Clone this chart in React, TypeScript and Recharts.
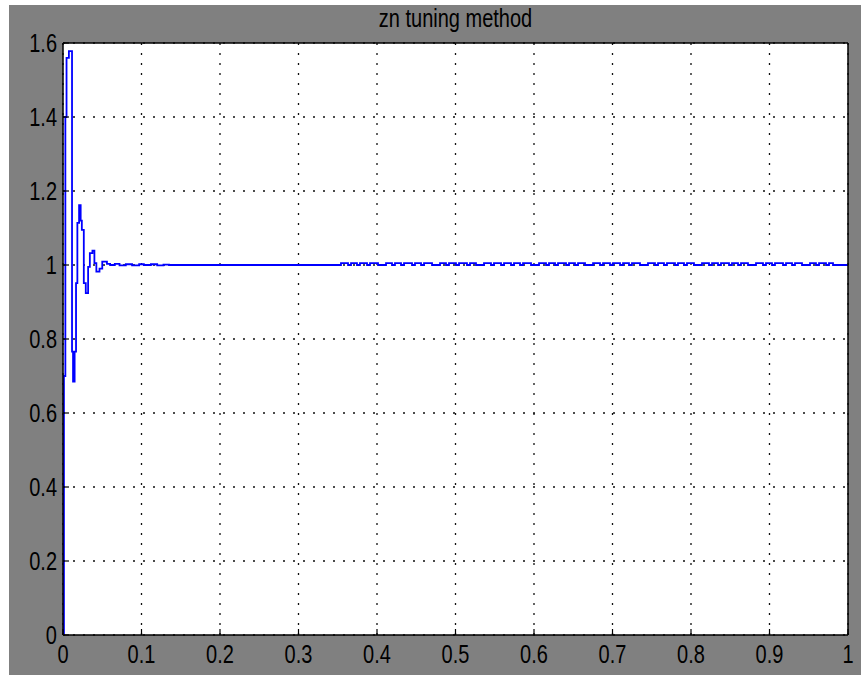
import React from 'react';
import { LineChart, Line, XAxis, YAxis, CartesianGrid } from 'recharts';

const titleText = 'zn tuning method';

const xTicks = [0, 0.1, 0.2, 0.3, 0.4, 0.5, 0.6, 0.7, 0.8, 0.9, 1];
const xTickLabels = ['0', '0.1', '0.2', '0.3', '0.4', '0.5', '0.6', '0.7', '0.8', '0.9', '1'];
const yTicks = [0, 0.2, 0.4, 0.6, 0.8, 1, 1.2, 1.4, 1.6];
const yTickLabels = ['0', '0.2', '0.4', '0.6', '0.8', '1', '1.2', '1.4', '1.6'];

// step response: [time, value], held until the next sample
const transientPoints: [number, number][] = [
  [0, 0],
  [0.0012, 0.7],
  [0.003, 1.4],
  [0.0045, 1.56],
  [0.0075, 1.578],
  [0.0115, 0.766],
  [0.0128, 0.685],
  [0.0148, 0.766],
  [0.0166, 0.951],
  [0.0183, 1.114],
  [0.0205, 1.162],
  [0.0225, 1.12],
  [0.024, 1.095],
  [0.0265, 0.951],
  [0.029, 0.924],
  [0.032, 0.995],
  [0.0342, 1.032],
  [0.0375, 1.039],
  [0.04, 1.005],
  [0.0425, 0.982],
  [0.0465, 0.99],
  [0.05, 1.009],
  [0.056, 1.003],
];

const settlingRipple: [number, number][] = [
  [0.06, 1.0],
  [0.066, 1.003],
  [0.072, 0.999],
  [0.08, 1.002],
  [0.088, 0.999],
  [0.097, 1.002],
  [0.103, 1.0],
  [0.112, 1.002],
  [0.12, 0.999],
  [0.128, 1.001],
  [0.135, 1.0],
];

const rippleHigh = 1.005;
const rippleBase = 1.0;
// [start, end] times of the small upward ripples
const rippleBumps: [number, number][] = [
  [0.3541, 0.3631], [0.3669, 0.3745], [0.3783, 0.3873], [0.3911, 0.4013],
  [0.4115, 0.4191], [0.4229, 0.4306], [0.4344, 0.4446], [0.4484, 0.4561], [0.4599, 0.4701],
  [0.4803, 0.4879], [0.4917, 0.5006], [0.5045, 0.5146], [0.5185, 0.5261],
  [0.5363, 0.5452], [0.549, 0.558], [0.5618, 0.5707], [0.5745, 0.5822], [0.586, 0.5962],
  [0.6064, 0.6153], [0.6191, 0.6268], [0.6306, 0.6408], [0.6446, 0.6522], [0.6561, 0.665],
  [0.6752, 0.6841], [0.6879, 0.6968], [0.7006, 0.7096], [0.7134, 0.721], [0.7248, 0.735],
  [0.7452, 0.7541], [0.758, 0.7656], [0.7694, 0.7796], [0.7834, 0.7911], [0.7949, 0.8038],
  [0.814, 0.8229], [0.8268, 0.8344], [0.8382, 0.8484], [0.8522, 0.8599], [0.8637, 0.8726],
  [0.8828, 0.8917], [0.8955, 0.9032], [0.907, 0.9172], [0.921, 0.9287], [0.9325, 0.9414],
  [0.9516, 0.9592], [0.9631, 0.972], [0.9758, 0.9809],
];

const finalPoint: [number, number] = [1, 1];

const data = [
  ...transientPoints.map(([t, y]) => ({ t, y })),
  ...settlingRipple.map(([t, y]) => ({ t, y })),
  ...rippleBumps.flatMap(([a, b]) => [
    { t: a, y: rippleHigh },
    { t: b, y: rippleBase },
  ]),
  { t: finalPoint[0], y: finalPoint[1] },
];

const FONT = '"Liberation Sans", Arial, Helvetica, sans-serif';
const FS = 25;
const SX = 0.8;

const fmt = (ticks: number[], labels: string[]) => (v: number) => {
  const i = ticks.indexOf(v);
  return i >= 0 ? labels[i] : String(v);
};
const fmtX = fmt(xTicks, xTickLabels);
const fmtY = fmt(yTicks, yTickLabels);

const XTick = (props: any) => {
  const { x, y, payload } = props;
  return (
    <text
      x={0}
      y={0}
      dy="0.72em"
      textAnchor="middle"
      transform={`translate(${x},${y}) scale(${SX},1)`}
      fontFamily={FONT}
      fontSize={FS}
      fill="#000"
    >
      {fmtX(payload.value)}
    </text>
  );
};

const YTick = (props: any) => {
  const { x, y, payload } = props;
  return (
    <text
      x={0}
      y={0}
      dy="0.36em"
      textAnchor="end"
      transform={`translate(${x},${y}) scale(${SX},1)`}
      fontFamily={FONT}
      fontSize={FS}
      fill="#000"
    >
      {fmtY(payload.value)}
    </text>
  );
};

const axisLineStyle = { stroke: '#000', strokeWidth: 1.5 };
const tickLineStyle = { stroke: '#000', strokeWidth: 1.2 };

export default function App() {
  return (
    <div
      style={{
        position: 'absolute',
        left: 9,
        top: 5,
        width: 852,
        height: 670,
        background: '#808080',
        overflow: 'hidden',
      }}
    >
      <div
        style={{
          position: 'absolute',
          left: 54,
          width: 785,
          top: 0,
          height: 26,
          lineHeight: '26px',
          textAlign: 'center',
          fontFamily: FONT,
          fontSize: FS,
          color: '#000',
          transform: `scaleX(${SX})`,
          transformOrigin: 'center',
        }}
      >
        {titleText}
      </div>
      <LineChart
        width={852}
        height={670}
        data={data}
        margin={{ top: 37, right: 12, bottom: 10, left: 14 }}
        style={{ position: 'absolute', left: 0, top: 0 }}
      >
        <CartesianGrid
          stroke="#111"
          strokeWidth={1.3}
          strokeDasharray="2 8"
          fill="#ffffff"
          fillOpacity={1}
        />
        <XAxis
          dataKey="t"
          type="number"
          domain={[0, 1]}
          ticks={xTicks}
          interval={0}
          allowDataOverflow
          height={30}
          tickSize={-6}
          tickMargin={16}
          tick={<XTick />}
          axisLine={axisLineStyle}
          tickLine={tickLineStyle}
        />
        <XAxis
          xAxisId="top"
          orientation="top"
          dataKey="t"
          type="number"
          domain={[0, 1]}
          ticks={xTicks}
          interval={0}
          allowDataOverflow
          height={1}
          tickSize={-6}
          tick={false}
          axisLine={axisLineStyle}
          tickLine={tickLineStyle}
        />
        <YAxis
          type="number"
          domain={[0, 1.6]}
          ticks={yTicks}
          interval={0}
          allowDataOverflow
          width={40}
          tickSize={-6}
          tickMargin={12}
          tick={<YTick />}
          axisLine={axisLineStyle}
          tickLine={tickLineStyle}
        />
        <YAxis
          yAxisId="right"
          orientation="right"
          type="number"
          domain={[0, 1.6]}
          ticks={yTicks}
          interval={0}
          allowDataOverflow
          width={1}
          tickSize={-6}
          tick={false}
          axisLine={axisLineStyle}
          tickLine={tickLineStyle}
        />
        <Line
          xAxisId="top"
          yAxisId="right"
          dataKey="y"
          type="stepAfter"
          stroke="none"
          strokeWidth={0}
          dot={false}
          activeDot={false}
          legendType="none"
          isAnimationActive={false}
        />
        <Line
          dataKey="y"
          type="stepAfter"
          stroke="#0000ff"
          strokeWidth={1.8}
          dot={false}
          activeDot={false}
          isAnimationActive={false}
        />
      </LineChart>
    </div>
  );
}
